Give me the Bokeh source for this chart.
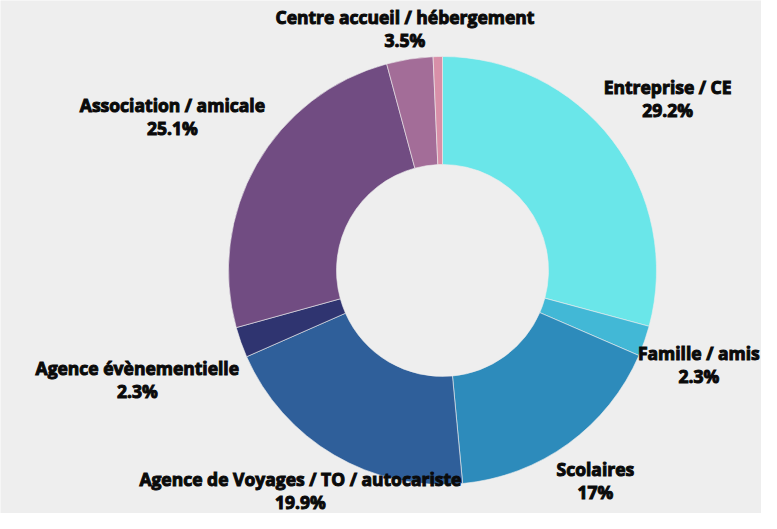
import math
from bokeh.plotting import figure
from bokeh.models import ColumnDataSource, Range1d, Text
from bokeh.embed import file_html
from bokeh.resources import INLINE
from bokeh.core.properties import value

# ---- data ----
categories = [
    "Entreprise / CE",
    "Famille / amis",
    "Scolaires",
    "Agence de Voyages / TO / autocariste",
    "Agence évènementielle",
    "Association / amicale",
    "Centre accueil / hébergement",
    "Autre",
]
shares = [29.2, 2.3, 17.0, 19.9, 2.3, 25.1, 3.5, 0.7]
colors = ["#6ae6e9", "#42b8d6", "#2d8bbb", "#2f5f9a", "#2f3470", "#714c82", "#a36d98", "#d88fa8"]

# ---- layout ----
W, H = 761, 513
CX, CY = 442, 270          # pie centre in canvas pixels (from top-left)
R_OUT, R_IN = 214, 106
BG = "#eeeeee"
FONT_PX = 17.5
LINE_GAP = 23
BOX_H = 44
GAP = 6
EDGE = 1

# approximate glyph advances (em) of a bold sans, used only to size label boxes
_ADV = {" ": .26, "/": .40, "%": .815, ".": .286, "a": .573, "b": .613, "c": .497, "d": .613,
        "e": .561, "é": .561, "è": .561, "f": .386, "g": .553, "h": .631, "i": .293, "l": .293,
        "m": .945, "n": .631, "o": .595, "p": .613, "r": .433, "s": .485, "t": .412, "u": .631,
        "v": .549, "y": .549, "A": .677, "C": .624, "E": .508, "F": .50, "O": .736, "S": .537,
        "T": .535, "V": .643}


def text_w(s, px=17, k=1.087):
    return sum(_ADV.get(ch, .572) for ch in s) * px * k


total = sum(shares)
starts, ends, mids = [], [], []
cum = 0.0
for v in shares:
    a0 = math.pi / 2 - 2 * math.pi * cum / total
    cum += v
    a1 = math.pi / 2 - 2 * math.pi * cum / total
    starts.append(a0)
    ends.append(a1)
    mids.append((a0 + a1) / 2)

src = ColumnDataSource(dict(cat=categories, share=shares, color=colors, start=starts, end=ends))

p = figure(width=W, height=H,
           x_range=Range1d(-CX, W - CX), y_range=Range1d(-(H - CY), CY),
           output_backend="svg", toolbar_location=None,
           x_axis_type=None, y_axis_type=None, min_border=0)
p.grid.visible = False
p.outline_line_color = None
p.background_fill_color = BG
p.border_fill_color = BG

p.annular_wedge(x=0, y=0, inner_radius=R_IN, outer_radius=R_OUT,
                start_angle="start", end_angle="end", direction="clock",
                fill_color="color", line_color=BG, line_width=0.6, source=src)


def box_dist(px, py, a, b):
    qx = max(abs(px) - a, 0.0)
    qy = max(abs(py) - b, 0.0)
    return math.hypot(qx, qy)


# ---- labels: push each label box out along its mid-angle until it clears the ring ----
l1x, l1y, l1t, l2x, l2y, l2t = [], [], [], [], [], []
for cat, v, m in zip(categories, shares, mids):
    if v < 1:
        continue
    dx, dy = math.cos(m), math.sin(m)
    pct = f"{v:.3g}%"
    w = max(text_w(cat), text_w(pct))
    a, b = w / 2, BOX_H / 2
    lo, hi = 0.0, 800.0
    for _ in range(60):
        t = (lo + hi) / 2
        if box_dist(t * dx, t * dy, a, b) >= R_OUT + GAP:
            hi = t
        else:
            lo = t
    lx, ly = hi * dx, hi * dy
    # keep the whole text inside the canvas
    lx = min(max(lx, -CX + a + EDGE), W - CX - a - EDGE)
    ly = min(max(ly, -(H - CY) + b + EDGE), CY - b - EDGE)
    l1x.append(lx); l1y.append(ly + LINE_GAP / 2); l1t.append(cat)
    l2x.append(lx); l2y.append(ly - LINE_GAP / 2); l2t.append(pct)

extra = {}
if "text_outline_color" in Text.properties():
    extra["text_outline_color"] = "#0a0a0a"

for xs, ys, ts in ((l1x, l1y, l1t), (l2x, l2y, l2t)):
    p.text(x=xs, y=ys, text=ts, text_align="center", text_baseline="middle",
           text_font=value("Open Sans"), text_font_style="bold",
           text_font_size=f"{FONT_PX}px", text_color="#0a0a0a", **extra)

open("out.html", "w").write(file_html(p, INLINE))
